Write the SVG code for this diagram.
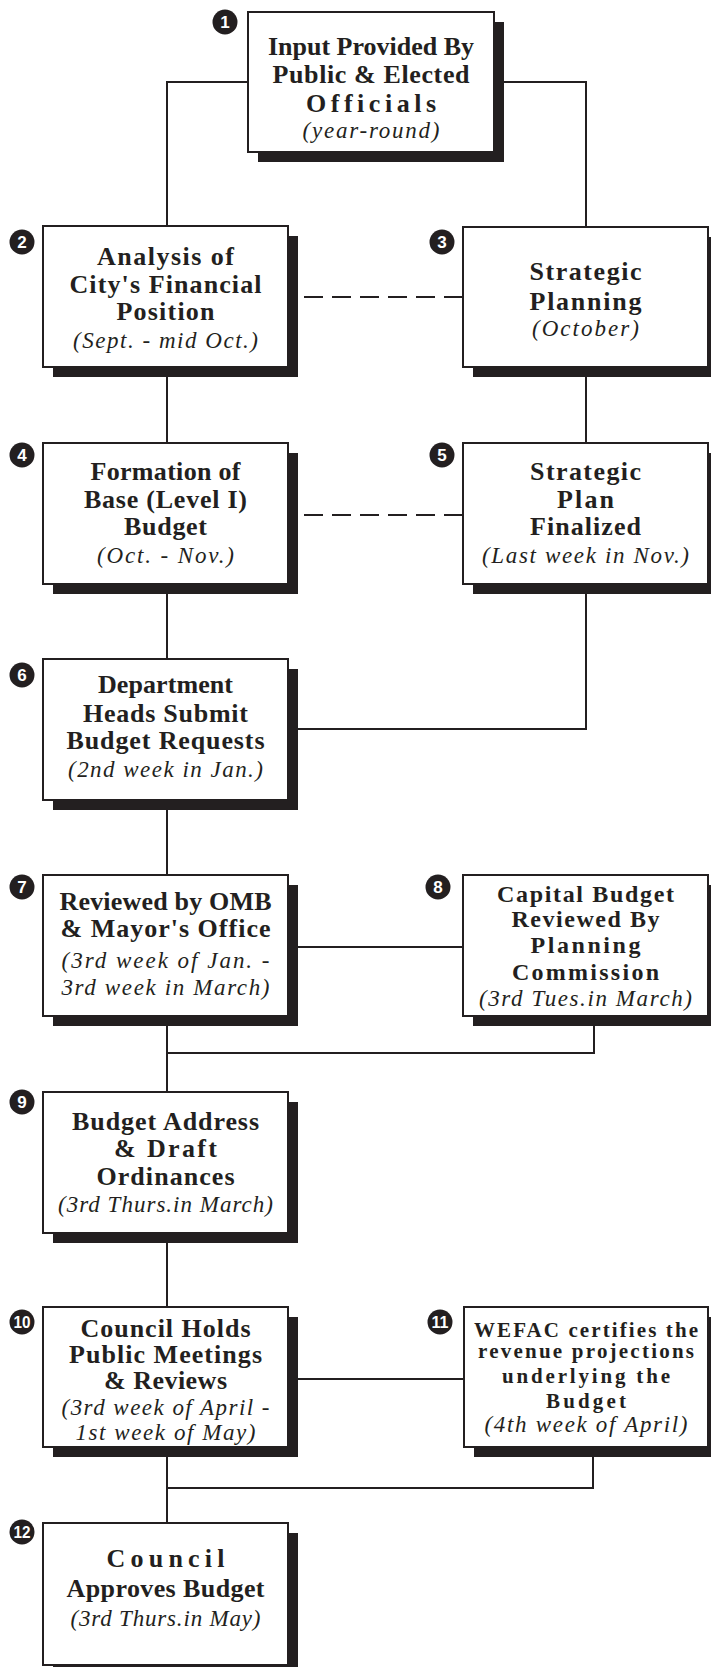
<svg xmlns="http://www.w3.org/2000/svg" width="711" height="1667" viewBox="0 0 711 1667">
<style>
.bg{fill:#fff}
.box{fill:#fff;stroke:#231f20;stroke-width:2}
.sh{fill:#231f20}
.ln{fill:none;stroke:#231f20;stroke-width:2}
.dash{stroke-dasharray:19 9}
.b{font-family:"Liberation Serif","Times New Roman",serif;font-weight:bold;font-size:26px;fill:#231f20;text-anchor:middle}
.m{font-size:24px}
.s{font-size:21px}
.i{font-family:"Liberation Serif","Times New Roman",serif;font-style:italic;font-size:23px;fill:#231f20;text-anchor:middle}
.bc{fill:#231f20}
.bt{font-family:"Liberation Sans",Arial,sans-serif;font-weight:bold;font-size:17px;fill:#fff;text-anchor:middle}
</style>
<rect class="bg" x="0" y="0" width="711" height="1667"/>
<g id="connectors">
<polyline class="ln" points="248,82 167,82 167,226"/>
<polyline class="ln" points="494,82 586,82 586,227"/>
<line class="ln" x1="167" y1="367" x2="167" y2="443"/>
<line class="ln" x1="586" y1="367" x2="586" y2="443"/>
<line class="ln dash" x1="463" y1="297" x2="290" y2="297"/>
<line class="ln dash" x1="463" y1="515" x2="290" y2="515"/>
<line class="ln" x1="167" y1="584" x2="167" y2="659"/>
<polyline class="ln" points="586,584 586,729 288,729"/>
<line class="ln" x1="167" y1="800" x2="167" y2="875"/>
<line class="ln" x1="288" y1="947" x2="463" y2="947"/>
<line class="ln" x1="167" y1="1016" x2="167" y2="1092"/>
<polyline class="ln" points="594,1016 594,1053 167,1053"/>
<line class="ln" x1="167" y1="1233" x2="167" y2="1307"/>
<line class="ln" x1="288" y1="1379" x2="464" y2="1379"/>
<polyline class="ln" points="593,1447 593,1488 167,1488"/>
<line class="ln" x1="167" y1="1447" x2="167" y2="1523"/>
</g>
<g id="node1">
<rect class="sh" x="258" y="22" width="246" height="140"/>
<rect class="box" x="248" y="12" width="246" height="140"/>
<text class="b" x="371" y="55" textLength="206" lengthAdjust="spacing">Input Provided By</text>
<text class="b" x="371" y="83" textLength="197" lengthAdjust="spacing">Public &amp; Elected</text>
<text class="b" x="371" y="112" textLength="130" lengthAdjust="spacing">Officials</text>
<text class="i" x="371" y="138" textLength="137" lengthAdjust="spacing">(year-round)</text>
<g class="badge"><circle class="bc" cx="225" cy="22" r="12.5"/><text class="bt" x="225" y="28">1</text></g>
</g>
<g id="node2">
<rect class="sh" x="53" y="236" width="245" height="141"/>
<rect class="box" x="43" y="226" width="245" height="141"/>
<text class="b" x="165.5" y="265" textLength="137" lengthAdjust="spacing">Analysis of</text>
<text class="b" x="165.5" y="293" textLength="192" lengthAdjust="spacing">City's Financial</text>
<text class="b" x="165.5" y="320" textLength="98" lengthAdjust="spacing">Position</text>
<text class="i" x="165.5" y="348" textLength="185" lengthAdjust="spacing">(Sept. - mid Oct.)</text>
<g class="badge"><circle class="bc" cx="22" cy="242" r="12.5"/><text class="bt" x="22" y="248">2</text></g>
</g>
<g id="node3">
<rect class="sh" x="473" y="237" width="245" height="140"/>
<rect class="box" x="463" y="227" width="245" height="140"/>
<text class="b" x="585.5" y="280" textLength="112" lengthAdjust="spacing">Strategic</text>
<text class="b" x="585.5" y="310" textLength="112" lengthAdjust="spacing">Planning</text>
<text class="i" x="585.5" y="336" textLength="107" lengthAdjust="spacing">(October)</text>
<g class="badge"><circle class="bc" cx="442" cy="242" r="12.5"/><text class="bt" x="442" y="248">3</text></g>
</g>
<g id="node4">
<rect class="sh" x="53" y="453" width="245" height="141"/>
<rect class="box" x="43" y="443" width="245" height="141"/>
<text class="b" x="165.5" y="480" textLength="150" lengthAdjust="spacing">Formation of</text>
<text class="b" x="165.5" y="508" textLength="163" lengthAdjust="spacing">Base (Level I)</text>
<text class="b" x="165.5" y="535" textLength="83" lengthAdjust="spacing">Budget</text>
<text class="i" x="165.5" y="563" textLength="137" lengthAdjust="spacing">(Oct. - Nov.)</text>
<g class="badge"><circle class="bc" cx="22" cy="455" r="12.5"/><text class="bt" x="22" y="461">4</text></g>
</g>
<g id="node5">
<rect class="sh" x="473" y="453" width="245" height="141"/>
<rect class="box" x="463" y="443" width="245" height="141"/>
<text class="b" x="585.5" y="480" textLength="111" lengthAdjust="spacing">Strategic</text>
<text class="b" x="585.5" y="508" textLength="57" lengthAdjust="spacing">Plan</text>
<text class="b" x="585.5" y="535" textLength="111" lengthAdjust="spacing">Finalized</text>
<text class="i" x="585.5" y="563" textLength="207" lengthAdjust="spacing">(Last week in Nov.)</text>
<g class="badge"><circle class="bc" cx="442" cy="455" r="12.5"/><text class="bt" x="442" y="461">5</text></g>
</g>
<g id="node6">
<rect class="sh" x="53" y="669" width="245" height="141"/>
<rect class="box" x="43" y="659" width="245" height="141"/>
<text class="b" x="165.5" y="693" textLength="135" lengthAdjust="spacing">Department</text>
<text class="b" x="165.5" y="722" textLength="165" lengthAdjust="spacing">Heads Submit</text>
<text class="b" x="165.5" y="749" textLength="198" lengthAdjust="spacing">Budget Requests</text>
<text class="i" x="165.5" y="777" textLength="195" lengthAdjust="spacing">(2nd week in Jan.)</text>
<g class="badge"><circle class="bc" cx="22" cy="675" r="12.5"/><text class="bt" x="22" y="681">6</text></g>
</g>
<g id="node7">
<rect class="sh" x="53" y="885" width="245" height="141"/>
<rect class="box" x="43" y="875" width="245" height="141"/>
<text class="b" x="165.5" y="910" textLength="212" lengthAdjust="spacing">Reviewed by OMB</text>
<text class="b" x="165.5" y="937" textLength="210" lengthAdjust="spacing">&amp; Mayor's Office</text>
<text class="i" x="165.5" y="968" textLength="208" lengthAdjust="spacing">(3rd week of Jan. -</text>
<text class="i" x="165.5" y="995" textLength="208" lengthAdjust="spacing">3rd week in March)</text>
<g class="badge"><circle class="bc" cx="22" cy="887" r="12.5"/><text class="bt" x="22" y="893">7</text></g>
</g>
<g id="node8">
<rect class="sh" x="473" y="885" width="245" height="141"/>
<rect class="box" x="463" y="875" width="245" height="141"/>
<text class="b m" x="585.5" y="902" textLength="177" lengthAdjust="spacing">Capital Budget</text>
<text class="b m" x="585.5" y="927" textLength="148" lengthAdjust="spacing">Reviewed By</text>
<text class="b m" x="585.5" y="953" textLength="110" lengthAdjust="spacing">Planning</text>
<text class="b m" x="585.5" y="980" textLength="147" lengthAdjust="spacing">Commission</text>
<text class="i" x="585.5" y="1006" textLength="213" lengthAdjust="spacing">(3rd Tues.in March)</text>
<g class="badge"><circle class="bc" cx="438" cy="887" r="12.5"/><text class="bt" x="438" y="893">8</text></g>
</g>
<g id="node9">
<rect class="sh" x="53" y="1102" width="245" height="141"/>
<rect class="box" x="43" y="1092" width="245" height="141"/>
<text class="b" x="165.5" y="1130" textLength="187" lengthAdjust="spacing">Budget Address</text>
<text class="b" x="165.5" y="1157" textLength="103" lengthAdjust="spacing">&amp; Draft</text>
<text class="b" x="165.5" y="1185" textLength="138" lengthAdjust="spacing">Ordinances</text>
<text class="i" x="165.5" y="1212" textLength="215" lengthAdjust="spacing">(3rd Thurs.in March)</text>
<g class="badge"><circle class="bc" cx="22" cy="1102" r="12.5"/><text class="bt" x="22" y="1108">9</text></g>
</g>
<g id="node10">
<rect class="sh" x="53" y="1317" width="245" height="140"/>
<rect class="box" x="43" y="1307" width="245" height="140"/>
<text class="b" x="165.5" y="1337" textLength="170" lengthAdjust="spacing">Council Holds</text>
<text class="b" x="165.5" y="1363" textLength="193" lengthAdjust="spacing">Public Meetings</text>
<text class="b" x="165.5" y="1389" textLength="123" lengthAdjust="spacing">&amp; Reviews</text>
<text class="i" x="165.5" y="1415" textLength="208" lengthAdjust="spacing">(3rd week of April -</text>
<text class="i" x="165.5" y="1440" textLength="180" lengthAdjust="spacing">1st week of May)</text>
<g class="badge"><circle class="bc" cx="22" cy="1322" r="12.5"/><text class="bt" x="22" y="1328" textLength="17" lengthAdjust="spacingAndGlyphs">10</text></g>
</g>
<g id="node11">
<rect class="sh" x="474" y="1317" width="244" height="140"/>
<rect class="box" x="464" y="1307" width="244" height="140"/>
<text class="b s" x="586" y="1337" textLength="224" lengthAdjust="spacing">WEFAC certifies the</text>
<text class="b s" x="586" y="1358" textLength="216" lengthAdjust="spacing">revenue projections</text>
<text class="b s" x="586" y="1383" textLength="168" lengthAdjust="spacing">underlying the</text>
<text class="b s" x="586" y="1408" textLength="80" lengthAdjust="spacing">Budget</text>
<text class="i" x="586" y="1432" textLength="203" lengthAdjust="spacing">(4th week of April)</text>
<g class="badge"><circle class="bc" cx="440" cy="1322" r="12.5"/><text class="bt" x="440" y="1328" textLength="17" lengthAdjust="spacingAndGlyphs">11</text></g>
</g>
<g id="node12">
<rect class="sh" x="53" y="1533" width="245" height="142"/>
<rect class="box" x="43" y="1523" width="245" height="142"/>
<text class="b" x="165.5" y="1567" textLength="118" lengthAdjust="spacing">Council</text>
<text class="b" x="165.5" y="1597" textLength="198" lengthAdjust="spacing">Approves Budget</text>
<text class="i" x="165.5" y="1626" textLength="190" lengthAdjust="spacing">(3rd Thurs.in May)</text>
<g class="badge"><circle class="bc" cx="22" cy="1532" r="12.5"/><text class="bt" x="22" y="1538" textLength="17" lengthAdjust="spacingAndGlyphs">12</text></g>
</g>
</svg>
